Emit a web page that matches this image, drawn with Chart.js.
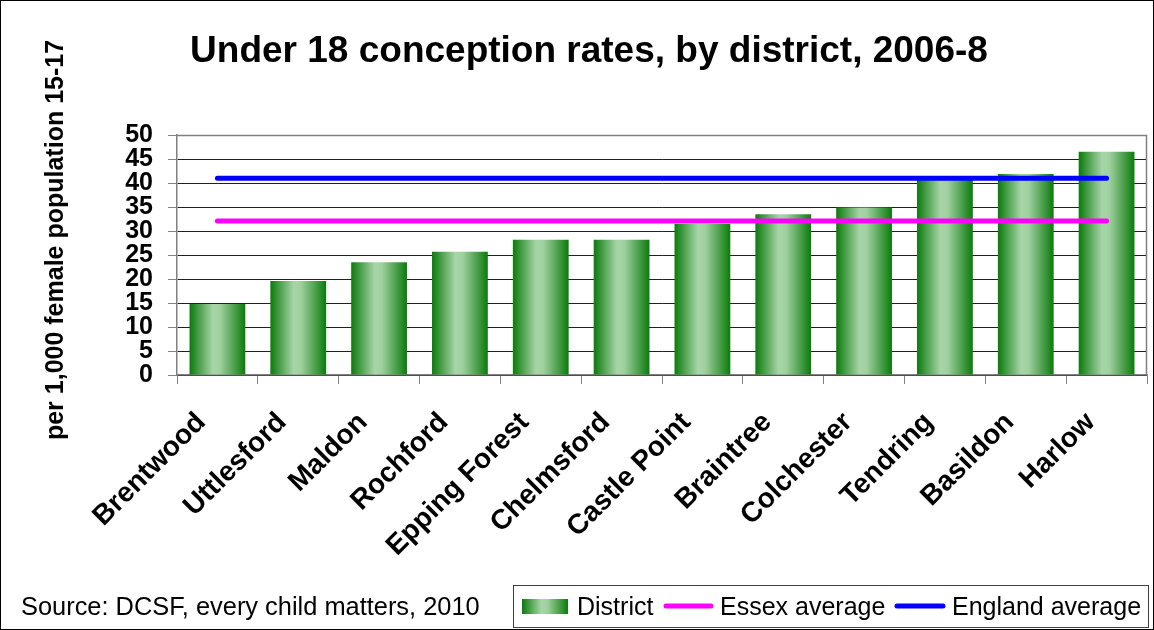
<!DOCTYPE html>
<html>
<head>
<meta charset="utf-8">
<title>Under 18 conception rates, by district, 2006-8</title>
<script src="https://cdn.jsdelivr.net/npm/chart.js@4.4.1/dist/chart.umd.min.js"></script>
<style>
  html, body { margin: 0; padding: 0; background: #fff; }
  #wrap { width: 1154px; height: 630px; position: relative; }
</style>
</head>
<body>
<div id="wrap"><canvas id="chart" width="1154" height="630"></canvas></div>
<script>
/* Under 18 conception rates by Essex district, 2006-8 */
const DISTRICTS = ['Brentwood', 'Uttlesford', 'Maldon', 'Rochford', 'Epping Forest', 'Chelmsford',
  'Castle Point', 'Braintree', 'Colchester', 'Tendring', 'Basildon', 'Harlow'];
const DISTRICT_RATES = [14.8, 19.6, 23.5, 25.7, 28.2, 28.2, 31.5, 33.5, 34.9, 40.7, 41.9, 46.5];
const ESSEX_AVG   = [32.1, 32.1, 32.1, 32.1, 32.1, 32.1, 32.1, 32.1, 32.1, 32.1, 32.1, 32.1];
const ENGLAND_AVG = [41.0, 41.0, 41.0, 41.0, 41.0, 41.0, 41.0, 41.0, 41.0, 41.0, 41.0, 41.0];
const Y_TICKS = [0, 5, 10, 15, 20, 25, 30, 35, 40, 45, 50];

const FONT = '"Liberation Sans", Arial, sans-serif';
const DARK_GREEN = '#0b7b0b';
const LIGHT_GREEN = '#a8d5a8';
const BAR_PCT = 0.69;

function greenGradient(ctx, x0, x1) {
  const g = ctx.createLinearGradient(x0, 0, x1, 0);
  g.addColorStop(0, DARK_GREEN);
  g.addColorStop(0.42, LIGHT_GREEN);
  g.addColorStop(0.55, '#9fd09f');
  g.addColorStop(1, DARK_GREEN);
  return g;
}

function barFill(c) {
  const chart = c.chart;
  const xs = chart.scales.x;
  if (!chart.chartArea || !xs || c.dataIndex === undefined) return DARK_GREEN;
  const cx = xs.getPixelForValue(c.dataIndex);
  const w = (xs.width / DISTRICTS.length) * BAR_PCT;
  return greenGradient(chart.ctx, cx - w / 2, cx + w / 2);
}

// titles, frame, source note and the boxed legend
const decor = {
  id: 'decor',
  afterDraw(chart) {
    const ctx = chart.ctx;
    const a = chart.chartArea;
    ctx.save();

    // top/right edges of the plot area
    ctx.strokeStyle = '#808080';
    ctx.lineWidth = 1.5;
    ctx.beginPath();
    ctx.moveTo(a.left, a.top + 0.5);
    ctx.lineTo(a.right - 0.5, a.top + 0.5);
    ctx.lineTo(a.right - 0.5, a.bottom);
    ctx.stroke();

    ctx.fillStyle = '#000';
    ctx.textAlign = 'center';
    ctx.textBaseline = 'alphabetic';
    ctx.font = 'bold 37px ' + FONT;
    ctx.fillText('Under 18 conception rates, by district, 2006-8', 589, 62);

    ctx.save();
    ctx.translate(63, 240);
    ctx.rotate(-Math.PI / 2);
    ctx.font = 'bold 25px ' + FONT;
    ctx.fillText('per 1,000 female population 15-17', 0, 0);
    ctx.restore();

    ctx.textAlign = 'left';
    ctx.font = '25.4px ' + FONT;
    ctx.fillText('Source: DCSF, every child matters, 2010', 21, 615);

    // legend
    ctx.font = '25px ' + FONT;
    ctx.strokeStyle = '#404040';
    ctx.lineWidth = 1;
    ctx.strokeRect(513.5, 585.5, 635, 42);
    ctx.fillStyle = greenGradient(ctx, 522, 568);
    ctx.fillRect(522, 599, 46, 15);
    ctx.fillStyle = '#000';
    ctx.fillText('District', 577, 615);
    ctx.lineCap = 'round';
    ctx.lineWidth = 5;
    ctx.strokeStyle = '#ff00ff';
    ctx.beginPath(); ctx.moveTo(666, 606); ctx.lineTo(711, 606); ctx.stroke();
    ctx.fillText('Essex average', 720, 615);
    ctx.strokeStyle = '#0000ff';
    ctx.beginPath(); ctx.moveTo(897, 606); ctx.lineTo(943, 606); ctx.stroke();
    ctx.fillText('England average', 952, 615);

    // outer border
    ctx.strokeStyle = '#000';
    ctx.lineWidth = 1;
    ctx.strokeRect(0.5, 0.5, chart.width - 1, chart.height - 1);
    ctx.restore();
  }
};

const chart = new Chart(document.getElementById('chart'), {
  type: 'bar',
  data: {
    labels: DISTRICTS,
    datasets: [
      { type: 'line', label: 'Essex average', data: ESSEX_AVG, order: 1,
        borderColor: '#ff00ff', borderWidth: 5, borderCapStyle: 'round',
        pointRadius: 0, fill: false, tension: 0 },
      { type: 'line', label: 'England average', data: ENGLAND_AVG, order: 1,
        borderColor: '#0000ff', borderWidth: 5, borderCapStyle: 'round',
        pointRadius: 0, fill: false, tension: 0 },
      { type: 'bar', label: 'District', data: DISTRICT_RATES, order: 2,
        backgroundColor: barFill, borderWidth: 0,
        barPercentage: BAR_PCT, categoryPercentage: 1 },
    ],
  },
  options: {
    responsive: false,
    animation: false,
    devicePixelRatio: 1,
    layout: { padding: { top: 135, right: 7, left: 0, bottom: 0 } },
    plugins: { legend: { display: false }, title: { display: false }, tooltip: { enabled: false } },
    scales: {
      x: {
        afterFit: (s) => { s.height = 255; },
        grid: { drawOnChartArea: false, tickLength: 9, color: '#808080', offset: true },
        border: { color: '#808080', width: 1.5 },
        ticks: {
          color: '#000', font: { family: FONT, size: 28, weight: 'bold' },
          maxRotation: 45, minRotation: 45, autoSkip: false, padding: 22, labelOffset: -16,
        },
      },
      y: {
        min: 0, max: 50,
        afterFit: (s) => { s.width = 177; },
        afterBuildTicks: (s) => { s.ticks = Y_TICKS.map((v) => ({ value: v })); },
        grid: { color: '#202020', tickLength: 9, tickColor: '#808080' },
        border: { color: '#808080', width: 1.5 },
        ticks: {
          color: '#000', font: { family: FONT, size: 25, weight: 'bold', lineHeight: 1 },
          autoSkip: false, padding: 15,
        },
      },
    },
  },
  plugins: [decor],
});
</script>
</body>
</html>
